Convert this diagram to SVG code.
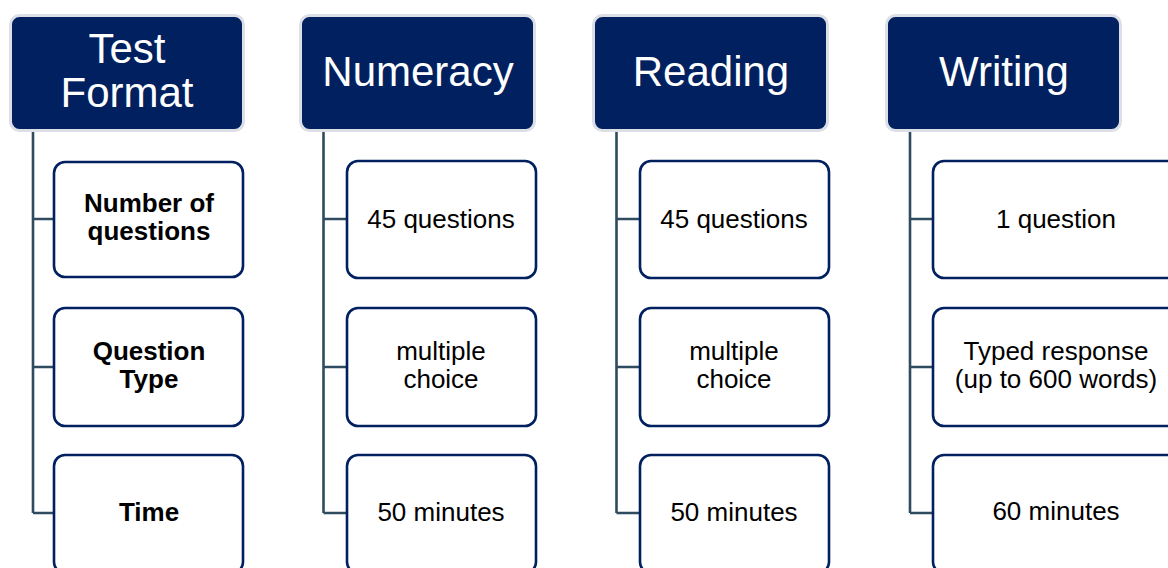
<svg xmlns="http://www.w3.org/2000/svg" width="1168" height="568" viewBox="0 0 1168 568">
<style>
.hdr{fill:#002060;stroke:#DCDFE5;stroke-width:3}
.box{fill:#FFFFFF;stroke:#002060;stroke-width:2.6}
.ht{font-family:"Liberation Sans",Arial,sans-serif;font-size:42px;fill:#FFFFFF;text-anchor:middle}
.bt{font-family:"Liberation Sans",Arial,sans-serif;font-size:26px;fill:#000000;text-anchor:middle}
.b{font-weight:bold}
.con{fill:none;stroke:#2F4B5F;stroke-width:2.6}
</style>
<rect width="1168" height="568" fill="#FFFFFF"/>
<g id="connectors">
<path class="con" d="M33,131 V513 M33,219 H53 M33,367 H53 M33,513 H53"/>
<path class="con" d="M323.5,131 V513 M323.5,219 H347 M323.5,367 H347 M323.5,513 H347"/>
<path class="con" d="M616.5,131 V513 M616.5,219 H640 M616.5,367 H640 M616.5,513 H640"/>
<path class="con" d="M910,131 V513 M910,219 H932 M910,367 H932 M910,513 H932"/>
</g>
<g id="h-test">
<rect class="hdr" x="10.5" y="15.5" width="233" height="115" rx="9"/>
<text class="ht" x="127" y="63">Test</text>
<text class="ht" x="127" y="107">Format</text>
</g>
<g id="h-numeracy">
<rect class="hdr" x="300.5" y="15.5" width="234" height="115" rx="9"/>
<text class="ht" x="418" y="86">Numeracy</text>
</g>
<g id="h-reading">
<rect class="hdr" x="593.5" y="15.5" width="234" height="115" rx="9"/>
<text class="ht" x="711" y="86">Reading</text>
</g>
<g id="h-writing">
<rect class="hdr" x="886.5" y="15.5" width="234" height="115" rx="9"/>
<text class="ht" x="1004" y="86">Writing</text>
</g>
<g id="c1-number">
<rect class="box" x="54" y="162" width="189" height="115" rx="11"/>
<text class="bt b" x="149" y="212">Number of</text>
<text class="bt b" x="149" y="240">questions</text>
</g>
<g id="c1-type">
<rect class="box" x="54" y="308" width="189" height="118" rx="11"/>
<text class="bt b" x="149" y="360">Question</text>
<text class="bt b" x="149" y="388">Type</text>
</g>
<g id="c1-time">
<rect class="box" x="54" y="455" width="189" height="118" rx="11"/>
<text class="bt b" x="149" y="521">Time</text>
</g>
<g id="c2-number">
<rect class="box" x="347" y="161" width="189" height="117" rx="11"/>
<text class="bt" x="441" y="228">45 questions</text>
</g>
<g id="c2-type">
<rect class="box" x="347" y="308" width="189" height="118" rx="11"/>
<text class="bt" x="441" y="360">multiple</text>
<text class="bt" x="441" y="388">choice</text>
</g>
<g id="c2-time">
<rect class="box" x="347" y="455" width="189" height="118" rx="11"/>
<text class="bt" x="441" y="521">50 minutes</text>
</g>
<g id="c3-number">
<rect class="box" x="640" y="161" width="189" height="117" rx="11"/>
<text class="bt" x="734" y="228">45 questions</text>
</g>
<g id="c3-type">
<rect class="box" x="640" y="308" width="189" height="118" rx="11"/>
<text class="bt" x="734" y="360">multiple</text>
<text class="bt" x="734" y="388">choice</text>
</g>
<g id="c3-time">
<rect class="box" x="640" y="455" width="189" height="118" rx="11"/>
<text class="bt" x="734" y="521">50 minutes</text>
</g>
<g id="c4-number">
<rect class="box" x="933" y="161" width="248" height="117" rx="11"/>
<text class="bt" x="1056" y="228">1 question</text>
</g>
<g id="c4-type">
<rect class="box" x="933" y="308" width="248" height="118" rx="11"/>
<text class="bt" x="1056" y="360">Typed response</text>
<text class="bt" x="1056" y="388">(up to 600 words)</text>
</g>
<g id="c4-time">
<rect class="box" x="933" y="455" width="248" height="118" rx="11"/>
<text class="bt" x="1056" y="520">60 minutes</text>
</g>
</svg>
